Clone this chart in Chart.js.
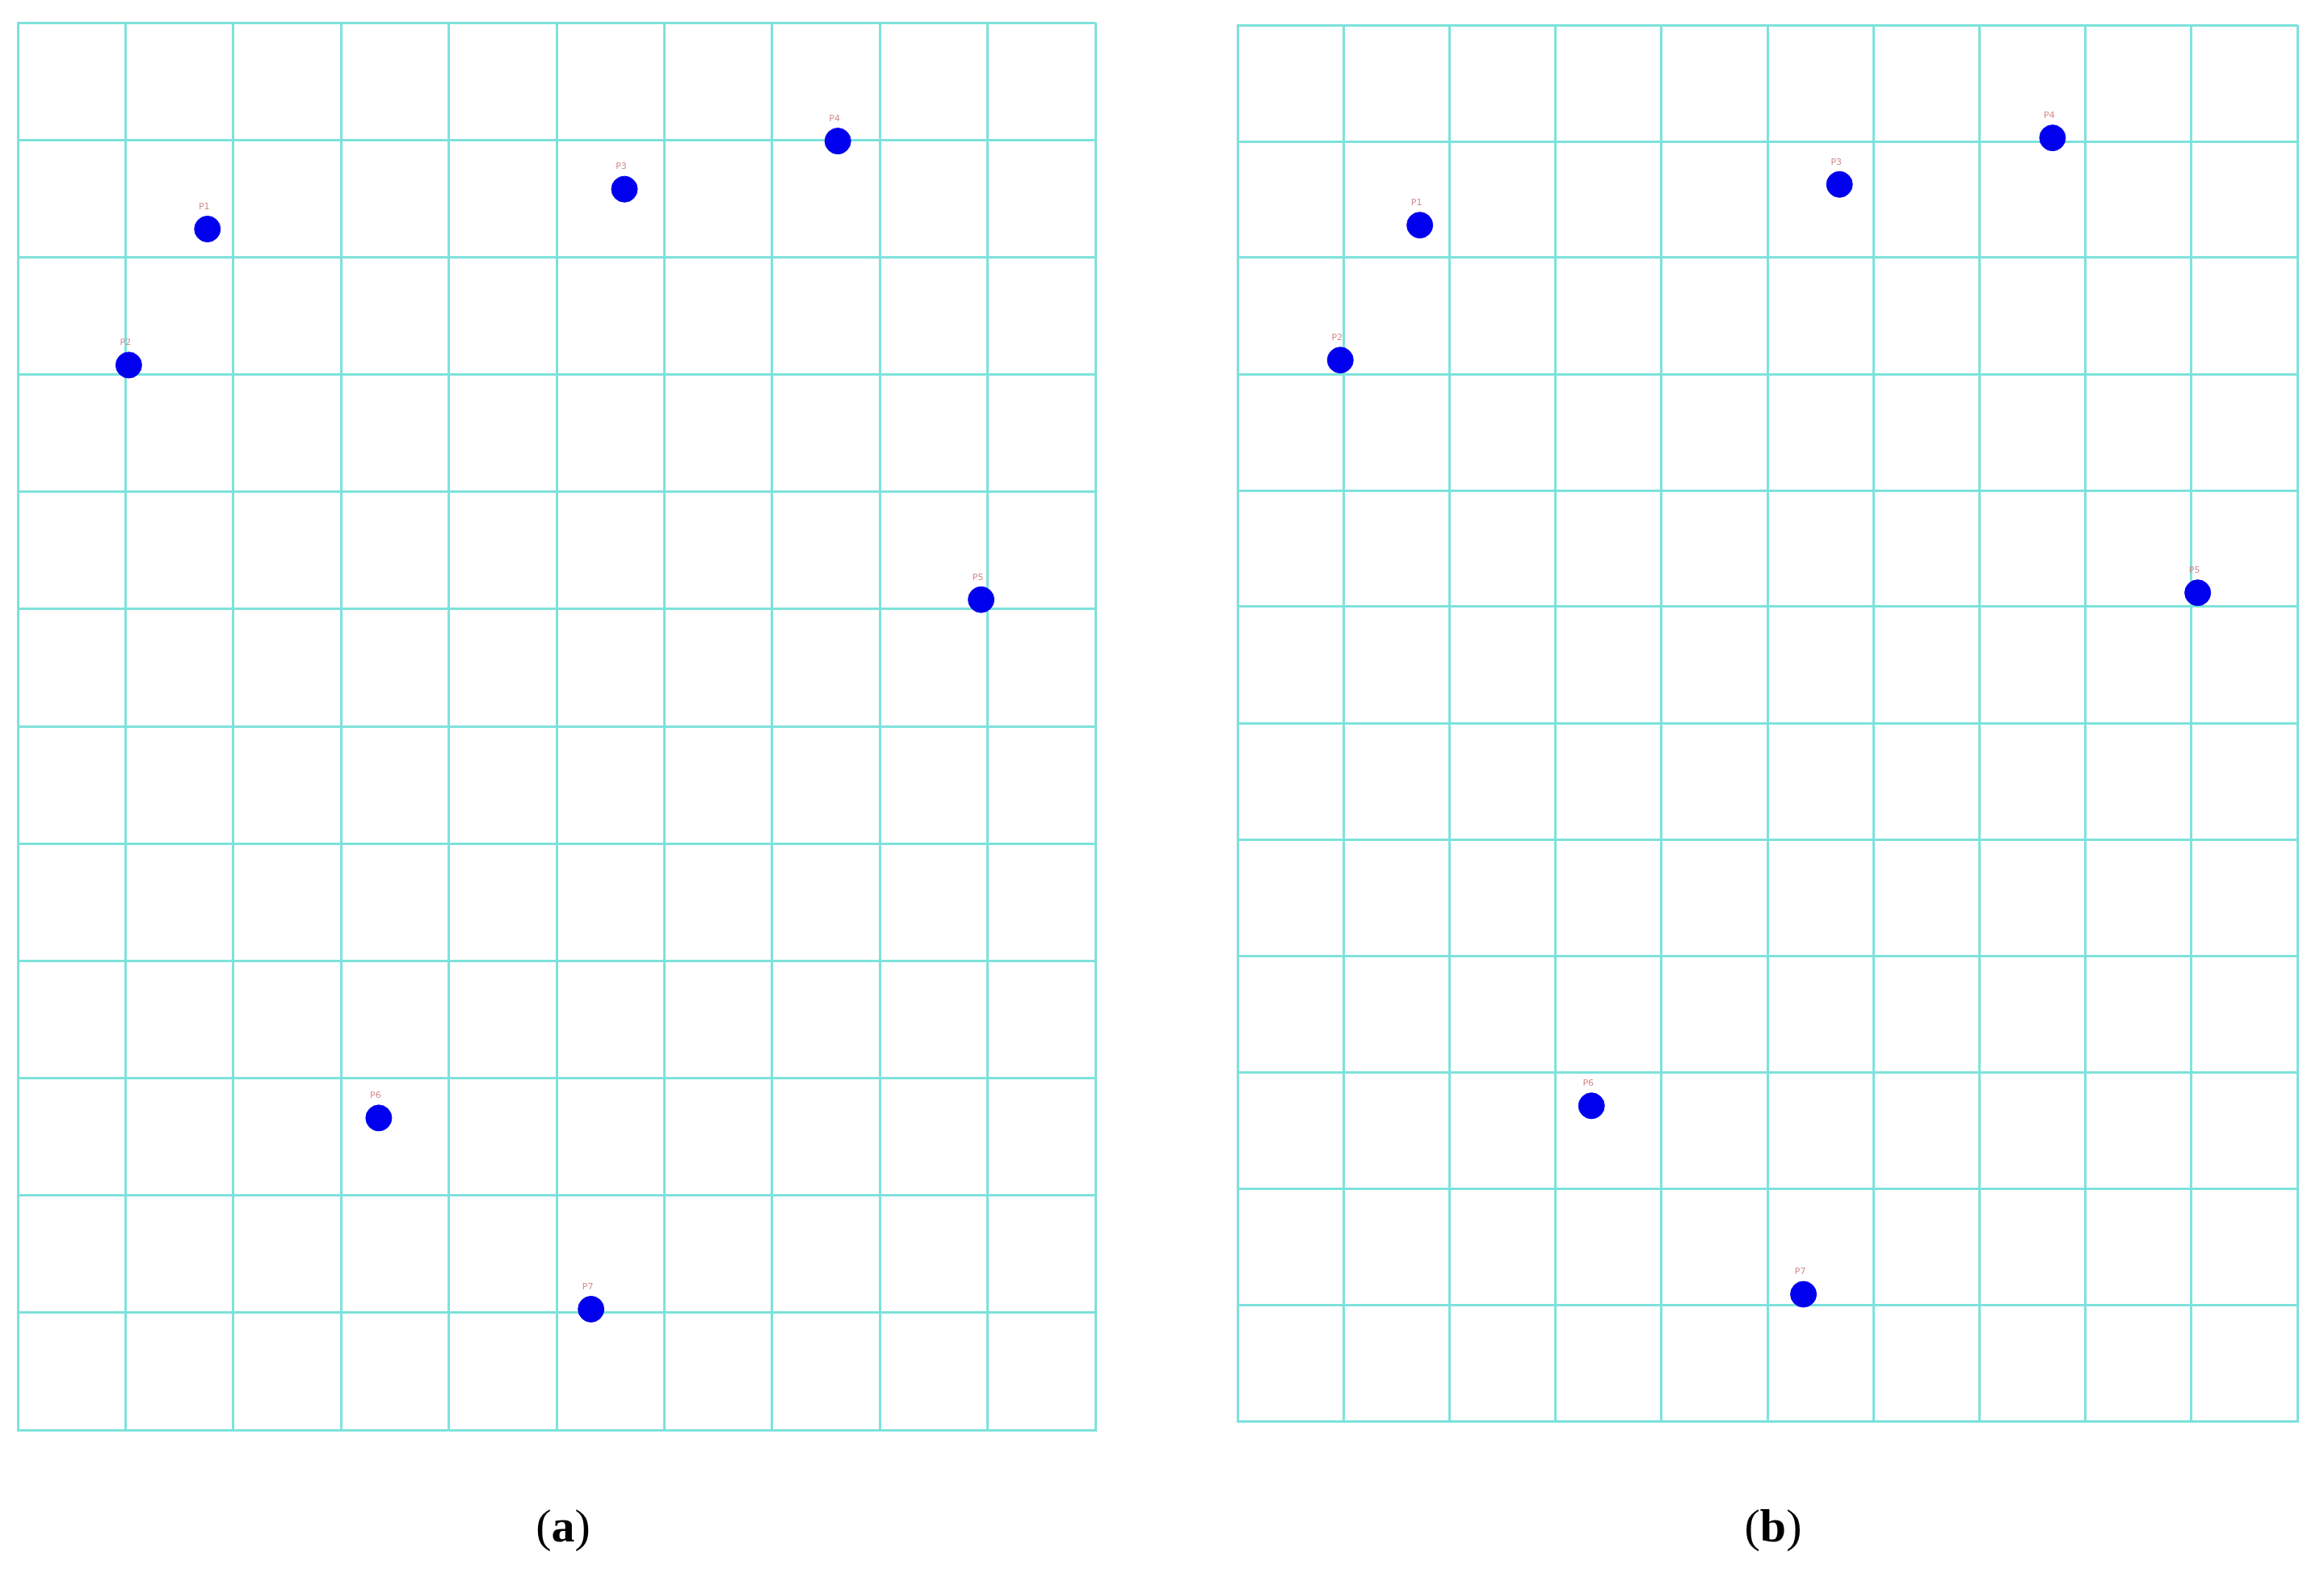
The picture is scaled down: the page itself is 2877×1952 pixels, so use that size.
<!DOCTYPE html>
<html>
<head>
<meta charset="utf-8">
<script src="https://cdn.jsdelivr.net/npm/chart.js@4.4.1/dist/chart.umd.min.js"></script>
<style>
  body { margin: 0; background: #fff; width: 2877px; height: 1952px; position: relative; overflow: hidden; }
  .panel { position: absolute; }
  .cap { position: absolute; font-family: "Liberation Serif", "DejaVu Serif", serif; font-size: 58px; color: #000; width: 200px; text-align: center; }
  .cap b { font-weight: bold; }
</style>
</head>
<body>
<div class="panel" style="left:5px; top:11px; width:1368px; height:1776px;"><canvas id="chartA"></canvas></div>
<div class="panel" style="left:1515px; top:14px; width:1346px; height:1762px;"><canvas id="chartB"></canvas></div>
<div class="cap" style="left:597px; top:1855px;">(<b>a</b>)</div>
<div class="cap" style="left:2095px; top:1855px;">(<b>b</b>)</div>
<script>
// puntos marcados en la rejilla (columnas 0-10, filas 0-12)
var etiquetas = ['P1', 'P2', 'P3', 'P4', 'P5', 'P6', 'P7'];
var xA = [1.76, 1.03, 5.63, 7.61, 8.94, 3.35, 5.32];
var yA = [10.24, 9.08, 10.58, 10.99, 7.08, 2.66, 1.03];
var xB = [1.72, 0.97, 5.68, 7.69, 9.06, 3.34, 5.34];
var yB = [10.28, 9.12, 10.63, 11.03, 7.12, 2.71, 1.09];
var columnas = 10;
var filas = 12;

var colorRejilla = '#7de2db';

// dibuja la etiqueta roja pequeña encima de cada punto
var pluginEtiquetas = {
    id: 'etiquetas',
    afterDatasetsDraw: function (chart) {
        var ctx = chart.ctx;
        var meta = chart.getDatasetMeta(0);
        ctx.save();
        ctx.font = '11px "DejaVu Sans"';
        ctx.fillStyle = 'rgba(200, 110, 110, 0.8)';
        ctx.textAlign = 'center';
        ctx.textBaseline = 'bottom';
        meta.data.forEach(function (p, i) {
            ctx.fillText(etiquetas[i], p.x - 4, p.y - 22);
        });
        ctx.restore();
    }
};

function rejilla(id, xs, ys) {
    var puntos = xs.map(function (x, i) { return { x: x, y: ys[i] }; });
    var eje = function (max) {
        return {
            type: 'linear',
            min: 0,
            max: max,
            ticks: { display: false, stepSize: 1 },
            grid: { color: colorRejilla, lineWidth: 3, drawTicks: false },
            border: { color: colorRejilla, width: 3 }
        };
    };
    new Chart(document.getElementById(id), {
        type: 'scatter',
        data: {
            datasets: [{
                data: puntos,
                backgroundColor: '#0000ee',
                borderColor: '#0000ee',
                pointRadius: 16,
                pointHoverRadius: 16
            }]
        },
        options: {
            responsive: true,
            maintainAspectRatio: false,
            animation: false,
            layout: { padding: 4 },
            plugins: { legend: { display: false }, tooltip: { enabled: false } },
            scales: { x: eje(columnas), y: eje(filas) }
        },
        plugins: [pluginEtiquetas]
    });
}

rejilla('chartA', xA, yA);
rejilla('chartB', xB, yB);
</script>
</body>
</html>
